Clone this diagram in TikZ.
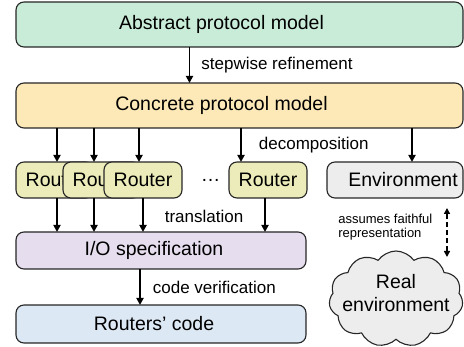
\documentclass[tikz,border=0pt]{standalone}
\usepackage{fontspec}
\setmainfont{Liberation Sans}
\usetikzlibrary{positioning,calc,arrows.meta,shapes.symbols}

\definecolor{abstractgreen}{RGB}{201,236,216}
\definecolor{concreteorange}{RGB}{253,233,184}
\definecolor{routeryellow}{RGB}{235,236,185}
\definecolor{envgray}{RGB}{237,237,237}
\definecolor{iopurple}{RGB}{230,222,238}
\definecolor{codeblue}{RGB}{221,232,245}

\begin{document}
\begin{tikzpicture}[x=1pt,y=-1pt,
	box/.style={draw=black!85,line width=1.1pt,rounded corners=8pt,outer sep=0pt,font=\fontsize{19.5}{23}\selectfont},
	router/.style={box,fill=routeryellow,minimum width=78,minimum height=36},
	arr/.style={line width=1.8pt,-{Triangle[width=7pt,length=7pt]}},
	dasharr/.style={line width=1.4pt,dash pattern=on 5pt off 3pt,{Triangle[width=6pt,length=6pt]}-{Triangle[width=6pt,length=6pt]}},
	lbl/.style={font=\fontsize{17}{20}\selectfont,inner sep=0pt}]
		\useasboundingbox (0,0) rectangle (464,347);

		\node[box,fill=abstractgreen,minimum width=447,minimum height=45] (abstract) at (239.5,24.5) {\hspace*{-36pt}Abstract protocol model};
		\node[box,fill=concreteorange,minimum width=447,minimum height=45,below=36pt of abstract] (concrete) {\hspace*{-36pt}Concrete protocol model};

		\node[router,anchor=north west] (r1) at ($(concrete.south west)+(0,34)$) {Router};
		\node[router,anchor=north west] (r2) at ($(r1.north west)+(47,0)$) {Router};
		\node[router,anchor=north west] (r3) at ($(r2.north west)+(41,0)$) {Router};
		\node[router,anchor=north west] (r4) at ($(r3.north west)+(125,0)$) {Router};
		\node[font=\fontsize{19.5}{23}\selectfont] (dots) at ($(r3.east)!0.5!(r4.west)+(5,0)$) {\dots};
		\node[box,fill=envgray,anchor=north east,minimum width=136,minimum height=36] (env) at (r1.north -| concrete.east) {Environment\hspace*{-16pt}};

		\node[box,fill=iopurple,anchor=north west,minimum width=290,minimum height=37] (io) at ($(r1.south west)+(0,34)$) {\hspace*{-14pt}I/O specification};
		\node[box,fill=codeblue,minimum width=290,minimum height=38,below=36pt of io] (code) {\hspace*{-14pt}Routers' code};

		\node[cloud,draw=black!85,line width=1.1pt,fill=envgray,cloud puffs=11,cloud puff arc=110,aspect=1.4,minimum width=134,minimum height=96,
			label={[align=center,font=\fontsize{19.5}{23}\selectfont,yshift=6pt]center:Real\\environment}] (real) at (396,299) {};

		% refinement steps
		\draw[arr] ($(abstract.south)+(-50,0)$) -- ($(concrete.north)+(-50,0)$) node[midway,right=11pt,lbl] {stepwise refinement};
		\draw[arr] ($(io.south)+(-21,0)$) -- ($(code.north)+(-21,0)$) node[midway,right=12pt,lbl] {code verification};

		% decomposition
		\coordinate (t1) at ($(r1.north west)+(41,0)$);
		\coordinate (t2) at ($(r2.north west)+(31,0)$);
		\coordinate (t3) at ($(r3.north west)+(35,0)$);
		\coordinate (t4) at ($(r4.north west)+(12,0)$);
		\coordinate (t5) at ($(env.north west)+(85,0)$);
		\draw[arr] (concrete.south -| t1) -- (t1);
		\draw[arr] (concrete.south -| t2) -- (t2);
		\draw[arr] (concrete.south -| t3) -- (t3);
		\draw[arr] (concrete.south -| t4) -- (t4) node[midway,right=17pt,lbl] {decomposition};
		\draw[arr] (concrete.south -| t5) -- (t5);

		% translation
		\coordinate (b1) at ($(r1.south west)+(41,0)$);
		\coordinate (b2) at ($(r2.south west)+(31,0)$);
		\coordinate (b3) at ($(r3.south west)+(39,0)$);
		\coordinate (b4) at ($(r4.south west)+(36,0)$);
		\draw[arr] (b1) -- (b1 |- io.north);
		\draw[arr] (b2) -- (b2 |- io.north);
		\draw[arr] (b3) -- (b3 |- io.north);
		\draw[arr] (b4) -- (b4 |- io.north);
		\node[lbl] (trans) at ($(b3)!0.5!(b4)+(0,18)$) {translation};

		% environment
		\coordinate (up) at ($(env.south east)+(-16,10)$);
		\coordinate (down) at ($(up)+(0,49)$);
		\draw[dasharr] (down) -- (up) node[midway,left=14pt,yshift=5pt,align=left,inner sep=0pt,font=\fontsize{13}{14}\selectfont] {assumes faithful\\representation};
	\end{tikzpicture}
\end{document}
